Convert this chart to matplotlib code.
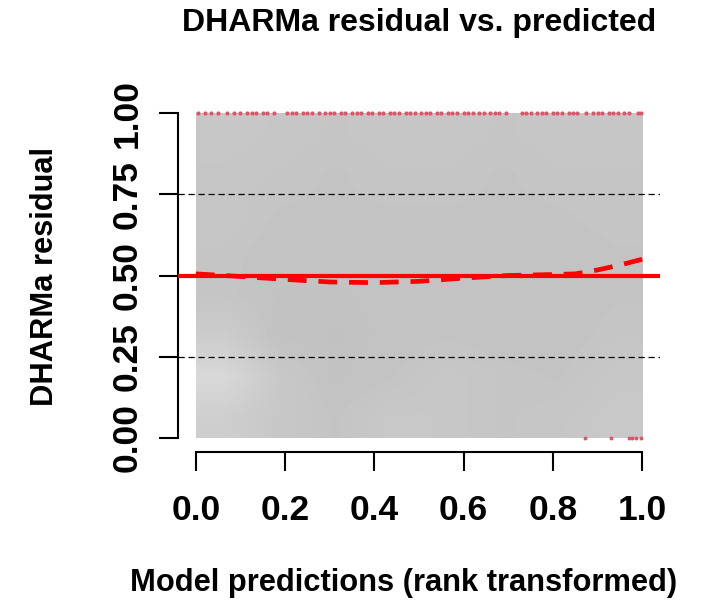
import numpy as np
import matplotlib
matplotlib.use("Agg")
import matplotlib.pyplot as plt

plt.rcParams['font.family'] = ['Liberation Sans', 'DejaVu Sans']
plt.rcParams['font.weight'] = 'bold'

# Grey level of the residual cloud on an 8 x 8 grid (rows from residual 0 upward,
# columns from prediction rank 0 to 1)
cloud_grey = [
    [206, 199, 196, 200, 199, 197, 198, 200],
    [216, 200, 194, 196, 199, 197, 196, 199],
    [204, 194, 193, 195, 196, 195, 195, 197],
    [197, 194, 194, 195, 196, 195, 195, 196],
    [197, 195, 195, 195, 196, 196, 195, 196],
    [198, 196, 196, 196, 196, 196, 196, 197],
    [198, 197, 196, 197, 197, 196, 197, 197],
    [199, 198, 197, 198, 198, 197, 198, 198],
]

# Quantile regression of residuals at the 0.5 quantile
quant_x = [0.0, 0.1, 0.2, 0.3, 0.4, 0.5, 0.6, 0.7, 0.8, 0.85, 0.9, 0.95, 1.0]
quant_y = [0.505, 0.497, 0.488, 0.480, 0.478, 0.482, 0.492, 0.500, 0.503, 0.505, 0.517, 0.532, 0.550]

# Outliers (simulation envelope exceeded)
outlier_top_x = [0.005, 0.02, 0.035, 0.05, 0.07, 0.085, 0.10, 0.115, 0.125, 0.135, 0.15, 0.16,
                 0.175, 0.205, 0.215, 0.225, 0.24, 0.25, 0.26, 0.275, 0.29, 0.30, 0.31, 0.325,
                 0.335, 0.35, 0.36, 0.37, 0.385, 0.395, 0.41, 0.42, 0.435, 0.445, 0.455, 0.47,
                 0.48, 0.49, 0.505, 0.515, 0.525, 0.54, 0.55, 0.565, 0.575, 0.585, 0.60, 0.61,
                 0.62, 0.635, 0.645, 0.66, 0.67, 0.68, 0.695, 0.73, 0.74, 0.75, 0.765, 0.775,
                 0.785, 0.80, 0.81, 0.82, 0.835, 0.845, 0.855, 0.875, 0.89, 0.90, 0.91, 0.925,
                 0.935, 0.945, 0.96, 0.97, 0.99, 0.997]
outlier_bottom_x = [0.873, 0.93, 0.97, 0.978, 0.987, 0.997]

y_ticks = [0.0, 0.25, 0.5, 0.75, 1.0]
y_tick_labels = ["0.00", "0.25", "0.50", "0.75", "1.00"]
x_ticks = [0.0, 0.2, 0.4, 0.6, 0.8, 1.0]
x_tick_labels = ["0.0", "0.2", "0.4", "0.6", "0.8", "1.0"]

fig = plt.figure(figsize=(7.01, 6.07), dpi=100)
ax = fig.add_axes([178 / 701, 1 - 451 / 607, 482 / 701, 351 / 607])
ax.set_xlim(-0.04, 1.04)
ax.set_ylim(-0.04, 1.04)

# residual cloud
ax.imshow(np.array(cloud_grey, dtype=float), cmap='gray', vmin=0, vmax=255,
          origin='lower', extent=(0, 1, 0, 1), interpolation='bilinear',
          aspect='auto', zorder=1)

# reference lines
for q in (0.25, 0.75):
    ax.axhline(q, color='black', lw=0.9, ls=(0, (5, 3)), zorder=2)
ax.axhline(0.5, color='#ff0000', lw=3.0, zorder=3)
ax.plot(quant_x, quant_y, color='#ff0000', lw=3.4, ls=(0, (4, 2.5)), zorder=4)

ax.scatter(outlier_top_x, [1.0] * len(outlier_top_x), s=9, color='#df536b', lw=0, zorder=5)
ax.scatter(outlier_bottom_x, [0.0] * len(outlier_bottom_x), s=8, color='#df536b', lw=0, zorder=5)

# R-style axes
for side in ('top', 'right'):
    ax.spines[side].set_visible(False)
ax.spines['left'].set_bounds(0, 1)
ax.spines['bottom'].set_bounds(0, 1)
ax.spines['left'].set_linewidth(1.5)
ax.spines['bottom'].set_linewidth(1.5)
ax.spines['bottom'].set_position(('outward', 1))

ax.set_yticks(y_ticks)
ax.set_yticklabels(y_tick_labels, rotation=90, va='center', fontsize=25.5, fontweight='bold')
ax.set_xticks(x_ticks)
ax.set_xticklabels(x_tick_labels, fontsize=25.5, fontweight='bold')
ax.tick_params(axis='both', direction='out', length=14, width=1.5, color='black')
ax.tick_params(axis='y', pad=11)
ax.tick_params(axis='x', pad=16)

fig.text(419 / 701, 1 - 23 / 607, "DHARMa residual vs. predicted", ha='center', va='center',
         fontsize=23, fontweight='bold')
fig.text(404 / 701, 1 - 583 / 607, "Model predictions (rank transformed)", ha='center',
         va='center', fontsize=22.2, fontweight='bold')
fig.text(45 / 701, 1 - 277 / 607, "DHARMa residual", ha='center', va='center', rotation=90,
         fontsize=22.2, fontweight='bold')

fig.savefig("out.png", dpi=100)
